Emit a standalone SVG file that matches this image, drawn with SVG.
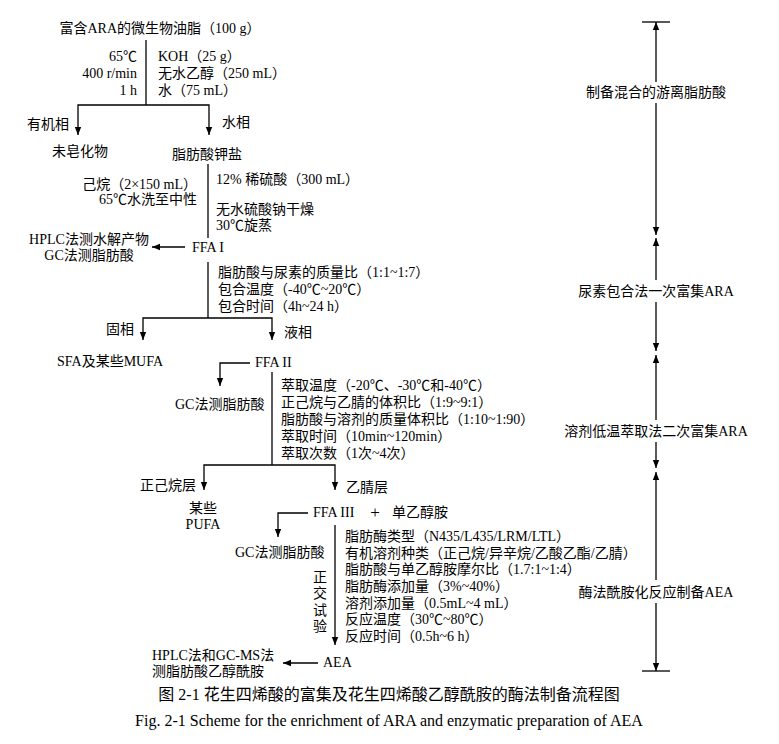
<svg xmlns="http://www.w3.org/2000/svg" width="779" height="744" viewBox="0 0 779 744">
<style>
text{font-family:"Liberation Serif","Noto Sans CJK SC",serif;font-size:14px;fill:#000}
.r{text-anchor:end}.m{text-anchor:middle}
line,polyline{stroke:#000;stroke-width:1.3;fill:none}
</style>
<defs><marker id="a" viewBox="0 0 10 10" refX="10" refY="5" markerWidth="8" markerHeight="8" orient="auto-start-reverse" markerUnits="userSpaceOnUse"><path d="M0,1 L10,5 L0,9z" fill="#000"/></marker></defs>
<rect width="779" height="744" fill="#fff"/>
<g id="connectors">
<line x1="146" y1="40" x2="146" y2="105"/>
<polyline points="78,135 78,105 209,105 209,135" marker-start="url(#a)" marker-end="url(#a)"/>
<line x1="208" y1="164" x2="208" y2="238"/>
<line x1="185" y1="247" x2="152" y2="247" marker-end="url(#a)"/>
<line x1="208" y1="262" x2="208" y2="318"/>
<polyline points="143,340 143,318 272,318 272,340" marker-start="url(#a)" marker-end="url(#a)"/>
<polyline points="250,363 220,363 220,386" marker-end="url(#a)"/>
<line x1="272" y1="372" x2="272" y2="465"/>
<polyline points="204,490 204,465 335,465 335,490" marker-start="url(#a)" marker-end="url(#a)"/>
<polyline points="308,513 278,513 278,537" marker-end="url(#a)"/>
<line x1="335" y1="525" x2="335" y2="645" marker-end="url(#a)"/>
<line x1="318" y1="663" x2="283" y2="663" marker-end="url(#a)"/>
<line x1="642" y1="22" x2="670" y2="22"/>
<line x1="642" y1="671" x2="670" y2="671"/>
<line x1="656" y1="82" x2="656" y2="22" marker-end="url(#a)"/>
<line x1="656" y1="103" x2="656" y2="235" marker-end="url(#a)"/>
<line x1="656" y1="280" x2="656" y2="238" marker-end="url(#a)"/>
<line x1="656" y1="302" x2="656" y2="351" marker-end="url(#a)"/>
<line x1="656" y1="420" x2="656" y2="355" marker-end="url(#a)"/>
<line x1="656" y1="442" x2="656" y2="468" marker-end="url(#a)"/>
<line x1="656" y1="580" x2="656" y2="472" marker-end="url(#a)"/>
<line x1="656" y1="603" x2="656" y2="671" marker-end="url(#a)"/>
</g>
<g id="n-oil"><text x="160" y="33" class="m">富含ARA的微生物油脂（100 g）</text></g>
<g id="n-cond1"><text x="137" y="61" class="r">65℃</text><text x="137" y="78" class="r">400 r/min</text><text x="137" y="95" class="r">1 h</text>
<text x="158" y="61">KOH（25 g）</text><text x="158" y="78">无水乙醇（250 mL）</text><text x="158" y="95">水（75 mL）</text></g>
<g id="n-org"><text x="27" y="129">有机相</text><text x="52" y="156">未皂化物</text></g>
<g id="n-aq"><text x="222" y="127">水相</text><text x="172" y="159">脂肪酸钾盐</text></g>
<g id="n-cond2"><text x="216" y="184">12% 稀硫酸（300 mL）</text><text x="216" y="214">无水硫酸钠干燥</text><text x="216" y="230">30℃旋蒸</text>
<text x="197" y="189" class="r">己烷（2×150 mL）</text><text x="197" y="204" class="r">65℃水洗至中性</text></g>
<g id="n-ffa1"><text x="192" y="252">FFA I</text><text x="89" y="244" class="m">HPLC法测水解产物</text><text x="89" y="260" class="m">GC法测脂肪酸</text></g>
<g id="n-cond3"><text x="218" y="277">脂肪酸与尿素的质量比（1:1~1:7）</text><text x="218" y="294">包合温度（-40℃~20℃）</text><text x="218" y="311">包合时间（4h~24 h）</text></g>
<g id="n-solid"><text x="106" y="334">固相</text><text x="57" y="366">SFA及某些MUFA</text></g>
<g id="n-ffa2"><text x="284" y="337">液相</text><text x="255" y="367">FFA II</text><text x="175" y="409">GC法测脂肪酸</text></g>
<g id="n-cond4"><text x="281" y="390">萃取温度（-20℃、-30℃和-40℃）</text><text x="281" y="407">正己烷与乙腈的体积比（1:9~9:1）</text><text x="281" y="424">脂肪酸与溶剂的质量体积比（1:10~1:90）</text><text x="281" y="441">萃取时间（10min~120min）</text><text x="281" y="458">萃取次数（1次~4次）</text></g>
<g id="n-hex"><text x="140" y="490">正己烷层</text><text x="203" y="513" class="m">某些</text><text x="203" y="529" class="m">PUFA</text></g>
<g id="n-ffa3"><text x="346" y="492">乙腈层</text><text x="313" y="517">FFA III</text><text x="375" y="518" class="m" style="font-size:17px">+</text><text x="392" y="517">单乙醇胺</text><text x="235" y="557">GC法测脂肪酸</text></g>
<g id="n-cond5"><text x="345" y="541">脂肪酶类型（N435/L435/LRM/LTL）</text><text x="345" y="558">有机溶剂种类（正己烷/异辛烷/乙酸乙酯/乙腈）</text><text x="345" y="574">脂肪酸与单乙醇胺摩尔比（1.7:1~1:4）</text><text x="345" y="591">脂肪酶添加量（3%~40%）</text><text x="345" y="608">溶剂添加量（0.5mL~4 mL）</text><text x="345" y="624">反应温度（30℃~80℃）</text><text x="345" y="641">反应时间（0.5h~6 h）</text>
<text x="320" y="582" class="m">正</text><text x="320" y="598" class="m">交</text><text x="320" y="615" class="m">试</text><text x="320" y="631" class="m">验</text></g>
<g id="n-aea"><text x="323" y="667">AEA</text><text x="152" y="660">HPLC法和GC-MS法</text><text x="152" y="676">测脂肪酸乙醇酰胺</text></g>
<g id="n-stages"><text x="656" y="97" class="m">制备混合的游离脂肪酸</text><text x="656" y="296" class="m">尿素包合法一次富集ARA</text><text x="656" y="436" class="m">溶剂低温萃取法二次富集ARA</text><text x="656" y="597" class="m">酶法酰胺化反应制备AEA</text></g>
<g id="caption"><text x="389" y="700" class="m" style="font-size:16px">图 2-1  花生四烯酸的富集及花生四烯酸乙醇酰胺的酶法制备流程图</text><text x="389" y="726" class="m" style="font-size:16px">Fig. 2-1 Scheme for the enrichment of ARA and enzymatic preparation of AEA</text></g>
</svg>
